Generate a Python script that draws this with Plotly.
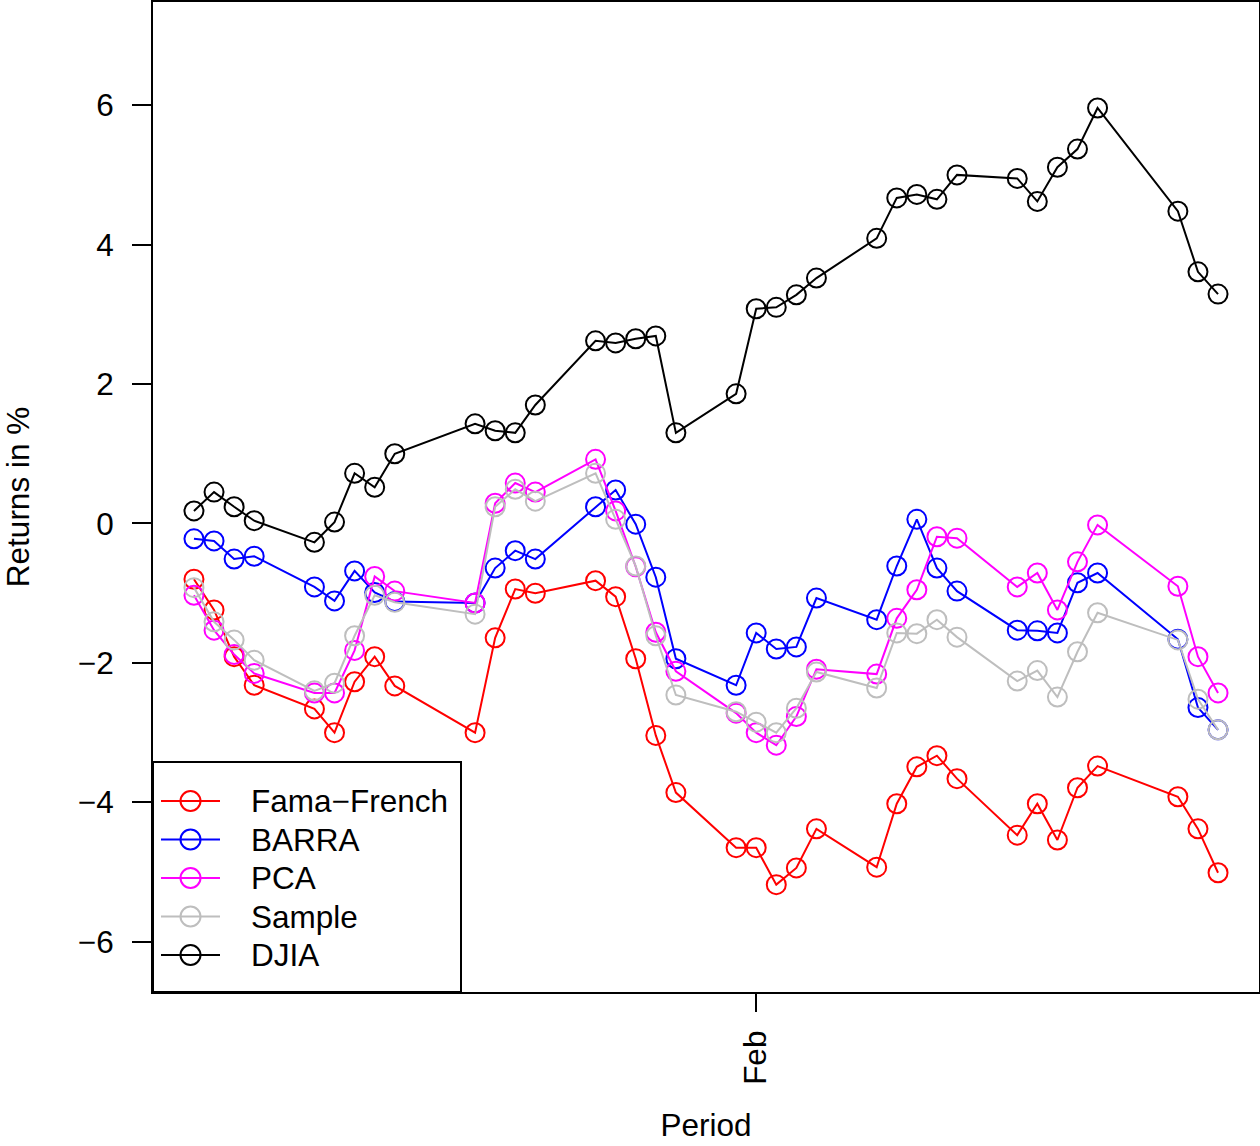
import datetime as dt
import plotly.graph_objects as go

dates = ["2011-01-04", "2011-01-05", "2011-01-06", "2011-01-07",
         "2011-01-10", "2011-01-11", "2011-01-12", "2011-01-13", "2011-01-14",
         "2011-01-18", "2011-01-19", "2011-01-20", "2011-01-21",
         "2011-01-24", "2011-01-25", "2011-01-26", "2011-01-27", "2011-01-28",
         "2011-01-31", "2011-02-01", "2011-02-02", "2011-02-03", "2011-02-04",
         "2011-02-07", "2011-02-08", "2011-02-09", "2011-02-10", "2011-02-11",
         "2011-02-14", "2011-02-15", "2011-02-16", "2011-02-17", "2011-02-18",
         "2011-02-22", "2011-02-23", "2011-02-24"]

fama_french = [-0.80, -1.24, -1.91, -2.32, -2.66, -3.00, -2.27, -1.91, -2.33, -3.00, -1.64, -0.94,
               -1.00, -0.82, -1.05, -1.94, -3.04, -3.86, -4.65, -4.65, -5.18, -4.94, -4.38, -4.93,
               -4.02, -3.49, -3.33, -3.66, -4.47, -4.02, -4.54, -3.79, -3.48, -3.92, -4.38, -5.01]
barra = [-0.22, -0.25, -0.51, -0.47, -0.91, -1.11, -0.68, -0.99, -1.12, -1.14, -0.64, -0.39,
         -0.51, 0.24, 0.48, -0.01, -0.77, -1.94, -2.32, -1.57, -1.80, -1.77, -1.07, -1.38,
         -0.61, 0.06, -0.64, -0.97, -1.53, -1.54, -1.57, -0.85, -0.71, -1.66, -2.64, -2.96]
pca = [-1.03, -1.53, -1.88, -2.15, -2.43, -2.43, -1.82, -0.76, -0.97, -1.14, 0.29, 0.58,
       0.45, 0.92, 0.18, -0.62, -1.56, -2.12, -2.72, -3.00, -3.18, -2.77, -2.09, -2.16,
       -1.36, -0.95, -0.19, -0.21, -0.91, -0.71, -1.24, -0.55, -0.02, -0.90, -1.91, -2.43]
sample = [-0.92, -1.41, -1.67, -1.96, -2.40, -2.29, -1.61, -1.03, -1.13, -1.30, 0.24, 0.49,
          0.32, 0.72, 0.06, -0.61, -1.61, -2.46, -2.70, -2.85, -3.00, -2.65, -2.13, -2.36,
          -1.57, -1.58, -1.38, -1.63, -2.26, -2.11, -2.49, -1.84, -1.28, -1.67, -2.52, -2.96]
djia = [0.18, 0.45, 0.24, 0.04, -0.27, 0.02, 0.72, 0.52, 1.00, 1.43, 1.33, 1.30,
        1.70, 2.62, 2.59, 2.65, 2.69, 1.30, 1.86, 3.08, 3.10, 3.28, 3.52, 4.09,
        4.67, 4.72, 4.65, 5.00, 4.95, 4.62, 5.11, 5.37, 5.96, 4.48, 3.61, 3.29]

series_names = ["Fama\u2212French", "BARRA", "PCA", "Sample", "DJIA"]
series_values = [fama_french, barra, pca, sample, djia]
series_colors = ["#FF0000", "#0000FF", "#FF00FF", "#BEBEBE", "#000000"]

x_tick_vals = ["2011-02-01"]
x_tick_text = ["Feb"]
y_tick_vals = [-6, -4, -2, 0, 2, 4, 6]

FONT = "Liberation Sans, Arial, sans-serif"
FS = 31.5

W, H = 1260, 1146
ML, MR, MT, MB = 153, 1, 2, 154
PW, PH = W - ML - MR, H - MT - MB


def px_x(px):
    return (px - ML) / PW


def px_y(py):
    return (H - MB - py) / PH


fig = go.Figure()
for name, vals, col in zip(series_names, series_values, series_colors):
    fig.add_trace(go.Scatter(
        x=dates, y=vals, name=name, mode="lines+markers", showlegend=False,
        line=dict(color=col, width=2),
        marker=dict(symbol="circle-open", size=19, color=col, line=dict(width=2, color=col)),
    ))

# manual R-style legend
shapes = [dict(type="rect", xref="paper", yref="paper", x0=0, x1=px_x(461),
               y0=0, y1=px_y(762), fillcolor="white", line=dict(color="black", width=2),
               layer="above")]
annotations = []
row_y = [801, 839.5, 878, 916.5, 955]
for name, col, ry in zip(series_names, series_colors, row_y):
    yp = px_y(ry)
    shapes.append(dict(type="line", xref="paper", yref="paper",
                       x0=px_x(161), x1=px_x(220), y0=yp, y1=yp,
                       line=dict(color=col, width=2), layer="above"))
    shapes.append(dict(type="circle", xref="paper", yref="paper",
                       xsizemode="pixel", ysizemode="pixel",
                       xanchor=px_x(190.5), yanchor=yp, x0=-10, x1=10, y0=-10, y1=10,
                       line=dict(color=col, width=2), fillcolor="rgba(0,0,0,0)",
                       layer="above"))
    annotations.append(dict(xref="paper", yref="paper", x=px_x(249), y=yp,
                            xanchor="left", yanchor="middle", text=name, showarrow=False,
                            font=dict(size=FS, family=FONT, color="black")))

d0 = dt.datetime.fromisoformat(dates[0])
d1 = dt.datetime.fromisoformat(dates[-1])
span = (d1 - d0) * 0.04
xr = [(d0 - span).isoformat(), (d1 + span).isoformat()]

fig.update_layout(
    width=W, height=H,
    margin=dict(l=ML, r=MR, t=MT, b=MB, autoexpand=False),
    paper_bgcolor="white", plot_bgcolor="white",
    font=dict(family=FONT, size=FS, color="black"),
    showlegend=False,
    shapes=shapes, annotations=annotations,
)
fig.update_xaxes(
    type="date", range=xr, tickvals=x_tick_vals, ticktext=x_tick_text,
    tickangle=-90, ticks="outside", ticklen=18, tickwidth=2, tickcolor="black",
    showline=True, linecolor="black", linewidth=2, mirror=True,
    showgrid=False, zeroline=False, ticklabelstandoff=6,
    title=dict(text="Period", standoff=30, font=dict(size=FS)),
    tickfont=dict(size=FS),
)
fig.update_yaxes(
    range=[-6.72, 7.48], tickvals=y_tick_vals,
    ticks="outside", ticklen=19, tickwidth=2, tickcolor="black",
    showline=True, linecolor="black", linewidth=2, mirror=True,
    showgrid=False, zeroline=False, ticklabelstandoff=12,
    title=dict(text="Returns in %", standoff=48, font=dict(size=FS)),
    tickfont=dict(size=FS),
)

fig.write_html("out.html", config={"displayModeBar": False},
               post_script="document.body.style.margin='0';document.body.style.padding='0';")
